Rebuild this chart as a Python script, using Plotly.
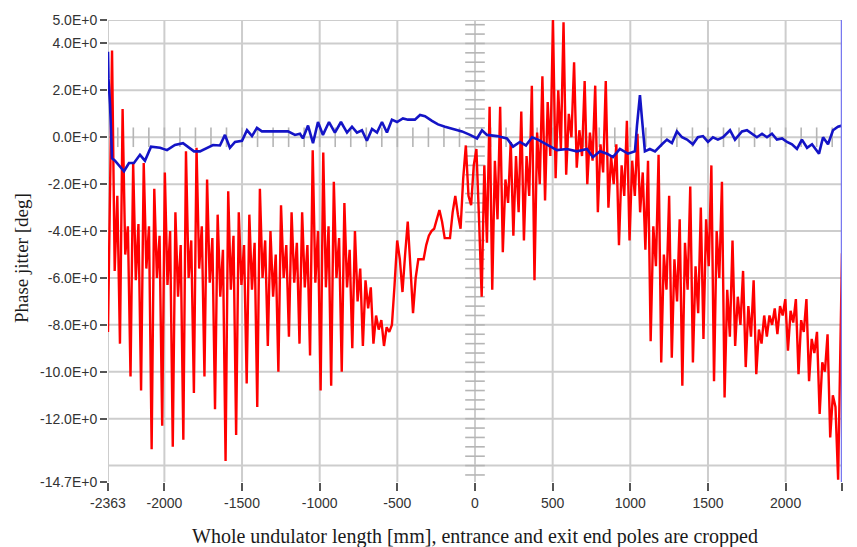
import plotly.graph_objects as go

# ---------------- data ----------------
# red series: phase jitter per pole (uniform pole spacing of 17 mm).
# One row = one undulator period of 4 poles.
red_first = -8.3          # value at x = -2363
red_last = -4.95          # value at x = +2363
red_rows = [
    [3.7, -5.7, -2.5, -8.8],
    [1.2, -5.0, -3.8, -10.2],
    [-1.1, -6.1, -3.7, -10.8],
    [-1.1, -5.6, -3.8, -13.3],
    [-2.2, -6.0, -4.2, -12.3],
    [-1.5, -6.3, -4.0, -13.2],
    [-3.2, -6.8, -4.6, -12.9],
    [-0.6, -6.0, -4.4, -10.9],
    [-0.45, -5.6, -3.8, -10.2],
    [-1.8, -6.2, -4.3, -11.6],
    [-3.3, -6.8, -4.8, -13.8],
    [-2.3, -6.5, -4.2, -12.7],
    [-3.2, -6.3, -4.6, -10.5],
    [-3.3, -6.5, -4.5, -11.5],
    [-2.2, -6.0, -4.4, -8.9],
    [-4.0, -6.8, -5.0, -10.0],
    [-2.9, -6.0, -4.6, -8.5],
    [-3.2, -6.2, -4.5, -8.8],
    [-3.2, -6.4, -4.6, -9.3],
    [-0.55, -6.2, -4.0, -10.8],
    [-0.65, -6.4, -3.8, -10.6],
    [-1.9, -6.0, -4.3, -10.0],
    [-2.8, -6.4, -4.8, -9.0],
    [-4.0, -7.0, -5.6, -8.9],
    [-6.1, -7.3, -6.4, -8.8],
    [-7.6, -8.2, -7.8, -8.9],
    [-8.1, -8.3, -8.0, -6.3],
    [-4.4, -5.2, -6.6, -5.0],
    [-3.6, -5.5, -7.5, -6.0],
    [-5.2, -5.2, -5.2, -4.6],
    [-4.2, -4.0, -3.9, -3.5],
    [-3.1, -3.6, -4.3, -4.3],
    [-4.3, -3.2, -2.5, -3.3],
    [-3.9, -1.75, -0.35, -2.5],
    [-2.9, -1.2, -0.5, -3.5],
    [-6.8, -1.2, -4.5, 1.3],
    [-6.5, -1.0, -3.5, 1.3],
    [-4.9, -1.8, -2.8, -0.2],
    [-4.2, -0.8, -3.2, 1.1],
    [-4.4, -0.8, -2.5, 2.2],
    [-6.1, 0.2, -2.0, 2.6],
    [-2.7, 1.5, -0.8, 5.0],
    [-1.75, 2.0, -0.5, 4.9],
    [-1.6, 1.0, 0.0, 3.2],
    [-1.3, 0.3, -0.8, 2.4],
    [-2.0, 0.2, -1.0, 2.2],
    [-3.2, -0.3, -1.5, 2.4],
    [-3.0, -0.8, -2.0, -0.3],
    [-4.6, -1.2, -2.5, 0.7],
    [-4.4, -1.0, -2.5, 0.15],
    [-3.2, -1.5, -4.8, -1.0],
    [-8.7, -3.8, -5.5, -0.75],
    [-9.6, -5.0, -6.5, -2.5],
    [-9.4, -5.2, -7.0, -3.5],
    [-10.6, -4.5, -6.5, -2.1],
    [-9.6, -5.5, -7.5, -3.0],
    [-8.6, -3.5, -5.5, -1.2],
    [-10.4, -4.0, -6.0, -1.9],
    [-11.1, -6.5, -8.5, -4.4],
    [-8.9, -6.8, -8.0, -5.7],
    [-9.8, -7.2, -8.5, -6.1],
    [-10.1, -8.2, -8.8, -7.6],
    [-8.5, -7.6, -8.0, -7.3],
    [-8.4, -7.2, -7.6, -6.9],
    [-9.1, -7.4, -7.9, -6.9],
    [-10.1, -7.8, -8.3, -6.9],
    [-10.4, -8.6, -9.2, -8.3],
    [-11.8, -9.6, -10.0, -8.4],
    [-12.8, -11.0, -11.5, -14.6],
]
pole_step_mm = 17
first_pole_mm = -2337

blue_x = [-2363, -2360, -2350, -2337, -2318, -2260, -2228, -2196, -2157, -2125,
          -2086, -2028, -1983, -1932, -1880, -1809, -1771, -1687, -1642, -1610,
          -1578, -1545, -1500, -1468, -1436, -1404, -1372, -1256, -1204, -1159,
          -1127, -1108, -1075, -1043, -1011, -979, -940, -902, -863, -824,
          -792, -760, -728, -696, -663, -631, -599, -567, -535, -502,
          -464, -432, -387, -354, -322, -277, -238, -193, -142, -84,
          -32, 13, 45, 77, 142, 206, 245, 289, 328, 367,
          405, 463, 528, 592, 656, 721, 759, 805, 850, 888,
          933, 985, 1030, 1043, 1062, 1075, 1094, 1126, 1159, 1204,
          1236, 1268, 1300, 1333, 1365, 1403, 1435, 1468, 1500, 1532,
          1564, 1597, 1642, 1674, 1719, 1751, 1783, 1815, 1848, 1880,
          1912, 1944, 1977, 2009, 2041, 2073, 2105, 2138, 2170, 2202,
          2215, 2241, 2273, 2305, 2337, 2363]
blue_y = [3.65, 2.5, 1.4, -0.9, -1.0, -1.45, -1.1, -1.1, -0.75, -1.0,
          -0.4, -0.45, -0.55, -0.33, -0.25, -0.6, -0.6, -0.33, -0.35, 0.1,
          -0.45, -0.2, -0.15, 0.3, 0.05, 0.4, 0.25, 0.25, 0.25, 0.1,
          0.15, -0.05, 0.5, -0.25, 0.65, 0.1, 0.65, 0.2, 0.65, 0.2,
          0.45, 0.2, 0.3, -0.15, 0.35, 0.2, 0.65, 0.2, 0.75, 0.65,
          0.8, 0.75, 0.75, 0.95, 0.9, 0.7, 0.55, 0.45, 0.35, 0.25,
          0.1, -0.05, 0.3, 0.1, 0.05, -0.05, -0.4, -0.2, -0.35, 0.0,
          -0.1, -0.3, -0.55, -0.5, -0.6, -0.5, -0.85, -0.6, -0.7, -0.85,
          -0.5, -0.7, -0.6, 0.5, 1.8, 0.8, -0.6, -0.5, -0.6, -0.3,
          -0.1, -0.25, 0.25, 0.0, -0.1, -0.3, 0.0, 0.05, -0.2, 0.0,
          -0.1, 0.0, 0.3, -0.1, 0.25, 0.3, 0.15, 0.0, 0.15, 0.0,
          0.15, -0.1, -0.05, -0.2, -0.3, -0.5, -0.1, -0.45, -0.3, -0.6,
          -0.7, 0.0, -0.3, 0.3, 0.45, 0.5]

x_tickvals = [-2363, -2000, -1500, -1000, -500, 0, 500, 1000, 1500, 2000, 2363]
x_ticktext = ["-2363", "-2000", "-1500", "-1000", "-500", "0", "500", "1000", "1500", "2000", "2363"]
y_tickvals = [5, 4, 2, 0, -2, -4, -6, -8, -10, -12, -14.7]
y_ticktext = ["5.0E+0", "4.0E+0", "2.0E+0", "0.0E+0", "-2.0E+0", "-4.0E+0", "-6.0E+0",
              "-8.0E+0", "-10.0E+0", "-12.0E+0", "-14.7E+0"]
x_grid = [-2000, -1500, -1000, -500, 0, 500, 1000, 1500, 2000]
y_grid = [4, 2, 0, -2, -4, -6, -8, -10, -12, -14]

XMIN, XMAX, YMIN, YMAX = -2363, 2363, -14.7, 5.0
GRID = "#cdcdcd"

# build the red path from the rows (one value per pole)
red_vals = [v for row in red_rows for v in row]
red_x = [XMIN] + [first_pole_mm + pole_step_mm * i for i in range(len(red_vals))] + [XMAX]
red_y = [red_first] + red_vals + [red_last]

fig = go.Figure()

shapes = []
for gx in x_grid:
    shapes.append(dict(type="line", xref="x", yref="y", x0=gx, x1=gx, y0=YMIN, y1=YMAX,
                       line=dict(color=GRID, width=2), layer="below"))
for gy in y_grid:
    shapes.append(dict(type="line", xref="x", yref="y", x0=XMIN, x1=XMAX, y0=gy, y1=gy,
                       line=dict(color=GRID, width=2), layer="below"))
shapes.append(dict(type="line", xref="x", yref="y", x0=XMIN, x1=XMAX, y0=YMAX, y1=YMAX,
                   line=dict(color=GRID, width=2), layer="below"))
shapes.append(dict(type="line", xref="x", yref="y", x0=XMIN, x1=XMIN, y0=YMIN, y1=YMAX,
                   line=dict(color=GRID, width=2), layer="below"))

# centre axis tick marks (decoration)
cx = [v for v in range(-2300, 2301, 100)]
cy = [round(v * 0.4, 2) for v in range(-36, 13)]
fig.add_trace(go.Scatter(x=cx, y=[0] * len(cx), mode="markers", hoverinfo="skip",
                         marker=dict(symbol="line-ns", size=14, line=dict(width=1.6, color="#b5b5b5")),
                         showlegend=False))
fig.add_trace(go.Scatter(x=[0] * len(cy), y=cy, mode="markers", hoverinfo="skip",
                         marker=dict(symbol="line-ew", size=14, line=dict(width=1.6, color="#b5b5b5")),
                         showlegend=False))

fig.add_trace(go.Scatter(x=red_x, y=red_y, mode="lines",
                         line=dict(color="#ff0000", width=2.4), showlegend=False))
fig.add_trace(go.Scatter(x=blue_x, y=blue_y, mode="lines",
                         line=dict(color="#1414c6", width=2.6), showlegend=False))

shapes.append(dict(type="line", xref="x", yref="y", x0=XMAX, x1=XMAX, y0=YMIN, y1=YMAX,
                   line=dict(color="#7878f0", width=2.5), layer="above"))

fig.update_layout(
    width=857, height=547,
    margin=dict(l=108, r=15, t=20, b=65),
    paper_bgcolor="white", plot_bgcolor="white",
    shapes=shapes,
    xaxis=dict(range=[XMIN, XMAX], showgrid=False, zeroline=False, showline=False,
               tickvals=x_tickvals, ticktext=x_ticktext, ticks="outside", ticklen=8,
               tickcolor="#555", tickwidth=1.5,
               tickfont=dict(family="Liberation Sans", size=14, color="#333")),
    yaxis=dict(range=[YMIN, YMAX], showgrid=False, zeroline=False, showline=False,
               tickvals=y_tickvals, ticktext=y_ticktext, ticks="outside", ticklen=7,
               tickcolor="#555", tickwidth=1.5,
               tickfont=dict(family="Liberation Sans", size=14, color="#333")),
    annotations=[
        dict(text="Whole undulator length [mm], entrance and exit end poles are cropped",
             xref="paper", yref="paper", x=0.5, y=-0.119, xanchor="center", yanchor="middle",
             showarrow=False, font=dict(family="Liberation Serif", size=20, color="#1a1a1a")),
        dict(text="Phase jitter [deg]", textangle=-90,
             xref="paper", yref="paper", x=-0.117, y=0.485, xanchor="center", yanchor="middle",
             showarrow=False, font=dict(family="Liberation Serif", size=19, color="#1a1a1a")),
    ],
)

fig.write_html("out.html")
